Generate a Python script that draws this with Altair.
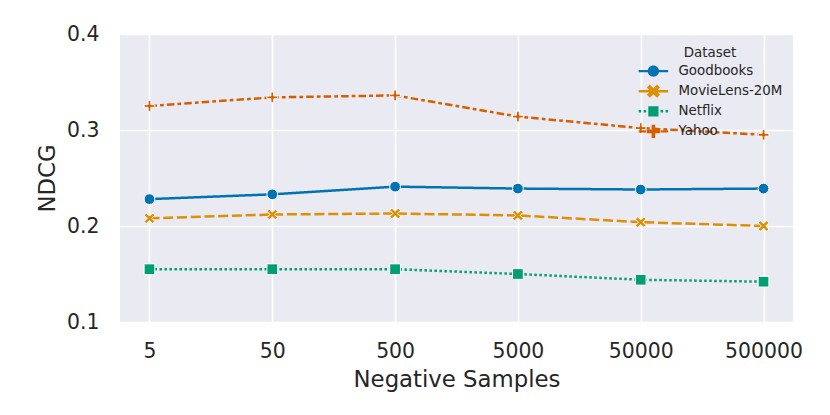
import altair as alt
import pandas as pd

samples = ["5", "50", "500", "5000", "50000", "500000"]
datasets = ["Goodbooks", "MovieLens-20M", "Netflix", "Yahoo"]
goodbooks = [0.228, 0.233, 0.241, 0.239, 0.238, 0.239]
movielens = [0.208, 0.212, 0.213, 0.211, 0.204, 0.200]
netflix = [0.155, 0.155, 0.155, 0.150, 0.144, 0.142]
yahoo = [0.325, 0.334, 0.336, 0.314, 0.302, 0.295]
colors = ["#0173b2", "#de8f05", "#029e73", "#d55e00"]
dashes = [[1, 0], [10, 3.75], [2.5, 2.5], [7.5, 3.1, 3.75, 3.1]]

# plot markers (unit coordinates)
X_PATH = ("M0,-0.42L0.58,-1L1,-0.58L0.42,0L1,0.58L0.58,1L0,0.42L-0.58,1"
          "L-1,0.58L-0.42,0L-1,-0.58L-0.58,-1Z")
P_PATH = ("M-0.26,-1H0.26V-0.26H1V0.26H0.26V1H-0.26V0.26H-1V-0.26H-0.26Z")
markers = ["circle", X_PATH, "square", P_PATH]

# legend symbols: line + marker, nominal box starts at the line's left end
C = 1.45   # marker centre (units)
T = 0.2
def rect(a, b):
    return f"M{a + C - 2.45:.3f},-{T}H{b + C - 2.45:.3f}V{T}H{a + C - 2.45:.3f}Z"
def poly(pts):
    return "M" + "L".join(f"{px + C:.3f},{py:.3f}" for px, py in pts) + "Z"
line_full = rect(0, 4.9)
circ = f"M{C + 0.95:.3f},0A0.95,0.95 0 1,1 {C - 0.95:.3f},0A0.95,0.95 0 1,1 {C + 0.95:.3f},0Z"
sq = poly([(-0.85, -0.85), (0.85, -0.85), (0.85, 0.85), (-0.85, 0.85)])
net_line = rect(0, 0.42) + rect(0.83, 1.25) + rect(3.65, 4.07) + rect(4.48, 4.9)
yah_line = rect(0, 1.25) + rect(3.65, 4.9)
X_BIG = poly([(0, -0.5), (0.6, -1.1), (1.1, -0.6), (0.5, 0), (1.1, 0.6), (0.6, 1.1),
              (0, 0.5), (-0.6, 1.1), (-1.1, 0.6), (-0.5, 0), (-1.1, -0.6), (-0.6, -1.1)])
P_BIG = poly([(-0.3, -1.1), (0.3, -1.1), (0.3, -0.3), (1.1, -0.3), (1.1, 0.3), (0.3, 0.3),
              (0.3, 1.1), (-0.3, 1.1), (-0.3, 0.3), (-1.1, 0.3), (-1.1, -0.3), (-0.3, -0.3)])
legend_shapes = [line_full + circ, line_full + X_BIG, net_line + sq, yah_line + P_BIG]

rows = []
for name, vals in zip(datasets, [goodbooks, movielens, netflix, yahoo]):
    for s, v in zip(samples, vals):
        rows.append({"Negative Samples": s, "NDCG": v, "Dataset": name, "DatasetL": name})
df = pd.DataFrame(rows)

x = alt.X("Negative Samples:N", sort=samples,
          scale=alt.Scale(type="point", padding=0.24),
          axis=alt.Axis(labelAngle=0, titleBaseline="alphabetic", titleY=64.3))
y = alt.Y("NDCG:Q", scale=alt.Scale(domain=[0.1, 0.4], nice=False, zero=False),
          axis=alt.Axis(values=[0.1, 0.2, 0.3, 0.4], format=".1f", labelPadding=21,
                        titleAngle=-90, titleBaseline="alphabetic",
                        titleX=-65.7, titleY=144))

base = alt.Chart(df)

lines = base.mark_line(strokeWidth=2.5, strokeCap="butt").encode(
    x=x, y=y,
    color=alt.Color("Dataset:N", scale=alt.Scale(domain=datasets, range=colors), legend=None),
    strokeDash=alt.StrokeDash("Dataset:N", scale=alt.Scale(domain=datasets, range=dashes), legend=None),
)

points = base.mark_point(filled=True, opacity=1, stroke="white", strokeWidth=1, size=115).encode(
    x=x, y=y,
    color=alt.Color("Dataset:N", scale=alt.Scale(domain=datasets, range=colors), legend=None),
    shape=alt.Shape("Dataset:N", scale=alt.Scale(domain=datasets, range=markers), legend=None),
)

leg = alt.Legend(title="Dataset", orient="none", legendX=518, legendY=12,
                 symbolOpacity=1, symbolSize=144, symbolStrokeWidth=0,
                 labelOffset=27, rowPadding=5.1, titlePadding=5,
                 titleAnchor="middle", padding=0)

legend_layer = base.mark_point(filled=True, opacity=0, strokeWidth=0).encode(
    x=x, y=y,
    color=alt.Color("DatasetL:N", scale=alt.Scale(domain=datasets, range=colors), legend=leg),
    shape=alt.Shape("DatasetL:N", scale=alt.Scale(domain=datasets, range=legend_shapes), legend=leg),
)

chart = alt.layer(lines, points, legend_layer).resolve_scale(
    color="independent", shape="independent"
).properties(
    width=673, height=288,
    padding={"left": 112, "top": 26, "right": 29, "bottom": 85},
    autosize=alt.AutoSizeParams(type="none"),
).configure(
    font="DejaVu Sans"
).configure_view(
    fill="#eaeaf2", strokeWidth=0
).configure_axis(
    grid=True, gridColor="white", gridWidth=1.6, domain=False, ticks=False,
    labelFontSize=20.4, labelColor="#262626", titleFontSize=22.8,
    titleColor="#262626", titleFontWeight="normal", labelPadding=19.3,
).configure_legend(
    labelFontSize=13.4, titleFontSize=13.4, labelColor="#262626",
    titleColor="#262626", titleFontWeight="normal",
)

chart.save("out.html", embed_options={"renderer": "svg", "actions": False})
